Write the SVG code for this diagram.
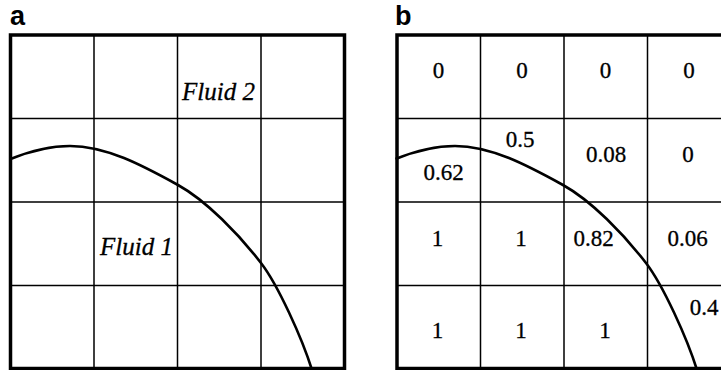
<svg xmlns="http://www.w3.org/2000/svg" width="721" height="370" viewBox="0 0 721 370">
<style>
.bg{fill:#fff}
.grid{stroke:#000;stroke-width:1.5;fill:none}
.border{stroke:#000;stroke-width:3.5;fill:none}
.curve{stroke:#000;stroke-width:2.6;fill:none}
.lbl{font-family:"Liberation Sans",Arial,sans-serif;font-weight:bold;font-size:27px;fill:#000}
.it{font-family:"Liberation Serif","Times New Roman",serif;font-style:italic;font-size:25px;fill:#000;stroke:#000;stroke-width:0.3}
.num{font-family:"Liberation Serif","Times New Roman",serif;font-size:23px;fill:#000;stroke:#000;stroke-width:0.3;text-anchor:middle}
</style>
<defs>
<g id="gridlines">
<path class="grid" d="M94,35V368.5M177.5,35V368.5M261,35V368.5M10.5,118.5H344.5M10.5,202H344.5M10.5,285.5H344.5"/>
<rect class="border" x="10.5" y="35" width="334" height="333.5"/>
</g>
<path id="iface" class="curve" d="M10.5,159 C30,151.2 50,146 70,146 C106,146 142,165.2 178,185 C206,200.4 239,234.4 261,263 C278,285.1 302,338 312,370"/>
</defs>
<rect class="bg" width="721" height="370"/>
<g id="panel-a">
<text class="lbl" x="10" y="25">a</text>
<use href="#gridlines"/>
<use href="#iface"/>
<text class="it" x="182" y="100">Fluid 2</text>
<text class="it" x="100" y="255">Fluid 1</text>
</g>
<g id="panel-b">
<text class="lbl" x="395" y="25">b</text>
<use href="#gridlines" transform="translate(386.5,0)"/>
<use href="#iface" transform="translate(385,0)"/>
<g id="values">
<text class="num" x="438.5" y="78">0</text>
<text class="num" x="522" y="78">0</text>
<text class="num" x="605.5" y="78">0</text>
<text class="num" x="689" y="78">0</text>
<text class="num" x="443.5" y="180">0.62</text>
<text class="num" x="520" y="147">0.5</text>
<text class="num" x="606" y="162">0.08</text>
<text class="num" x="688" y="162">0</text>
<text class="num" x="437.5" y="245.5">1</text>
<text class="num" x="521" y="245.5">1</text>
<text class="num" x="593.5" y="245.5">0.82</text>
<text class="num" x="687.5" y="245.5">0.06</text>
<text class="num" x="437.5" y="338">1</text>
<text class="num" x="521" y="338">1</text>
<text class="num" x="605" y="338">1</text>
<text class="num" x="704" y="315">0.4</text>
</g>
</g>
</svg>
